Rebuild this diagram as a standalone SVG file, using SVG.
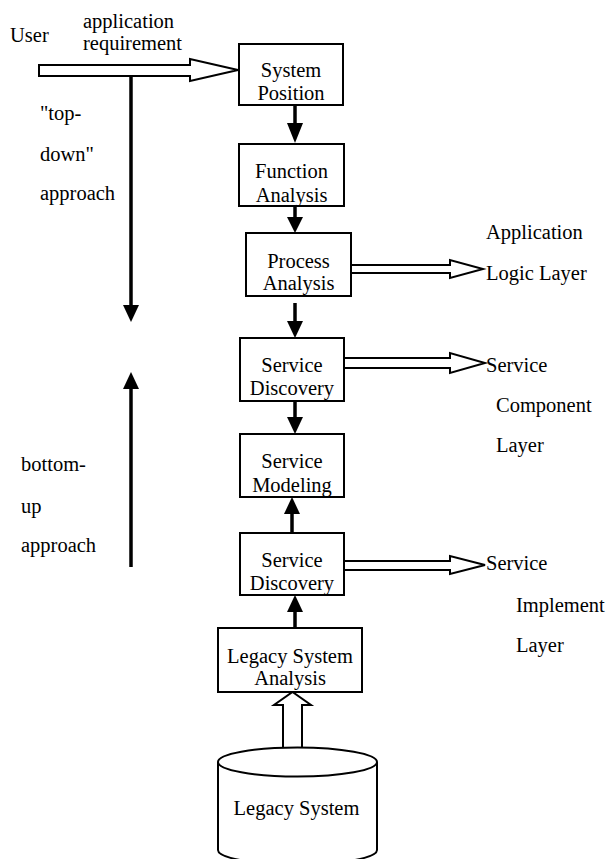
<svg xmlns="http://www.w3.org/2000/svg" width="609" height="859" viewBox="0 0 609 859" font-family="Liberation Serif, DejaVu Serif, serif">
  <style>
    text { font-family: 'Liberation Serif', 'DejaVu Serif', serif; font-size: 20.5px; fill: #000; }
    .c { text-anchor: middle; }
    .box { fill: #fff; stroke: #000; stroke-width: 2; }
    .hollow { fill: #fff; stroke: #000; stroke-width: 2; stroke-linejoin: miter; }
    .flow { stroke: #000; stroke-width: 3.5; fill: none; }
    .head { fill: #000; stroke: none; }
  </style>

  <!-- free labels -->
  <g id="labels">
    <text x="10" y="42">User</text>
    <text x="83" y="28">application</text>
    <text x="83" y="50">requirement</text>
    <text x="40" y="120">"top-</text>
    <text x="40" y="161">down"</text>
    <text x="40" y="200">approach</text>
    <text x="21" y="471">bottom-</text>
    <text x="21" y="513">up</text>
    <text x="21" y="552">approach</text>
    <text x="486" y="239">Application</text>
    <text x="486" y="280">Logic Layer</text>
    <text x="486" y="372">Service</text>
    <text x="496" y="412">Component</text>
    <text x="496" y="452">Layer</text>
    <text x="486" y="570">Service</text>
    <text x="516" y="612">Implement</text>
    <text x="516" y="652">Layer</text>
  </g>

  <!-- connectors -->
  <g id="connectors">
    <!-- user requirement block arrow -->
    <polygon class="hollow" points="39,65 190,65 190,59 238,70 190,81 190,76 39,76"/>
    <!-- top-down approach -->
    <line class="flow" x1="131" y1="76" x2="131" y2="306"/>
    <polygon class="head" points="123,305 139,305 131,322"/>
    <!-- bottom-up approach -->
    <line class="flow" x1="131" y1="388" x2="131" y2="567"/>
    <polygon class="head" points="123,389 139,389 131,372"/>

    <!-- downward chain -->
    <line class="flow" x1="295" y1="105" x2="295" y2="125"/>
    <polygon class="head" points="287,123 303,123 295,143"/>
    <line class="flow" x1="295" y1="206" x2="295" y2="218"/>
    <polygon class="head" points="287,217 303,217 295,233"/>
    <line class="flow" x1="295" y1="303" x2="295" y2="322"/>
    <polygon class="head" points="287,321 303,321 295,338"/>
    <line class="flow" x1="295" y1="401" x2="295" y2="418"/>
    <polygon class="head" points="287,417 303,417 295,434"/>

    <!-- upward chain -->
    <line class="flow" x1="292" y1="533" x2="292" y2="512"/>
    <polygon class="head" points="284,514 300,514 292,497"/>
    <line class="flow" x1="295" y1="629" x2="295" y2="610"/>
    <polygon class="head" points="287,612 303,612 295,595"/>

    <!-- layer block arrows -->
    <polygon class="hollow" points="345,265 450,265 450,260 483,269 450,278 450,273 345,273"/>
    <polygon class="hollow" points="344,358 450,358 450,353 485,363 450,373 450,368 344,368"/>
    <polygon class="hollow" points="344,561 450,561 450,556 485,565 450,574 450,570 344,570"/>

    <!-- legacy system block arrow -->
    <polygon class="hollow" points="283,748 283,705 274,705 292.5,692 311,705 302,705 302,748"/>
  </g>

  <g id="system-position">
    <rect class="box" x="239" y="44" width="104" height="61"/>
    <text class="c" x="291" y="77">System</text>
    <text class="c" x="291" y="100">Position</text>
  </g>

  <g id="function-analysis">
    <rect class="box" x="239" y="144" width="105" height="62"/>
    <text class="c" x="291.5" y="178">Function</text>
    <text class="c" x="291.5" y="202">Analysis</text>
  </g>

  <g id="process-analysis">
    <rect class="box" x="246" y="233" width="105" height="63"/>
    <text class="c" x="298.5" y="268">Process</text>
    <text class="c" x="298.5" y="290">Analysis</text>
  </g>

  <g id="service-discovery-top">
    <rect class="box" x="240" y="338" width="104" height="63"/>
    <text class="c" x="292" y="372">Service</text>
    <text class="c" x="292" y="395">Discovery</text>
  </g>

  <g id="service-modeling">
    <rect class="box" x="240" y="434" width="104" height="63"/>
    <text class="c" x="292" y="468">Service</text>
    <text class="c" x="292" y="492">Modeling</text>
  </g>

  <g id="service-discovery-bottom">
    <rect class="box" x="240" y="533" width="104" height="62"/>
    <text class="c" x="292" y="567">Service</text>
    <text class="c" x="292" y="590">Discovery</text>
  </g>

  <g id="legacy-system-analysis">
    <rect class="box" x="218" y="628" width="144" height="64"/>
    <text class="c" x="290" y="663">Legacy System</text>
    <text class="c" x="290" y="685">Analysis</text>
  </g>

  <g id="legacy-system">
    <path class="box" d="M218,762 L218,850 A79.5,14.5 0 0 0 377,850 L377,762"/>
    <ellipse class="box" cx="297.5" cy="762" rx="79.5" ry="14.5"/>
    <text class="c" x="296.5" y="815">Legacy System</text>
  </g>
</svg>
